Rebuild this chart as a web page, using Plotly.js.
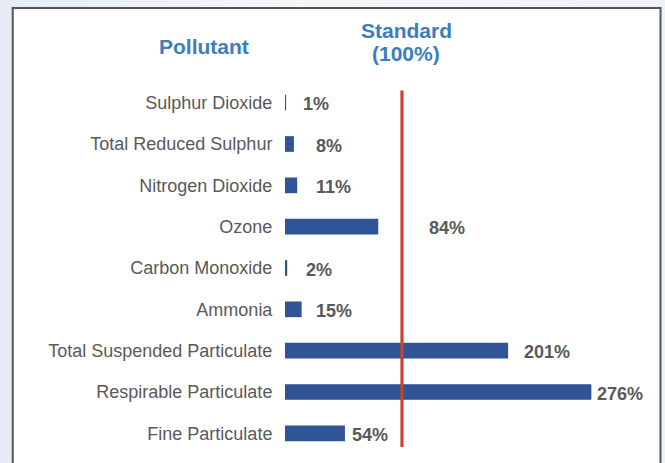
<!DOCTYPE html>
<html>
<head>
<meta charset="utf-8">
<script src="https://cdn.plot.ly/plotly-3.0.1.min.js"></script>
<style>
  html, body { margin: 0; padding: 0; }
  body { width: 665px; height: 463px; background: linear-gradient(90deg, #e6ecf5 0%, #f4f6fa 45%, #eef2f8 100%); }
  #chart { width: 665px; height: 463px; }
</style>
</head>
<body>
<div id="chart"></div>
<script>
// ---- data ----
const pollutants = [
  "Sulphur Dioxide",
  "Total Reduced Sulphur",
  "Nitrogen Dioxide",
  "Ozone",
  "Carbon Monoxide",
  "Ammonia",
  "Total Suspended Particulate",
  "Respirable Particulate",
  "Fine Particulate"
];
const percentOfStandard = [1, 8, 11, 84, 2, 15, 201, 276, 54];
const valueLabels = ["1%", "8%", "11%", "84%", "2%", "15%", "201%", "276%", "54%"];
const headerLeft = "Pollutant";
const headerRightLines = ["Standard", "(100%)"];

// ---- styling / placement (not data) ----
const W = 665, H = 463;
const M = { l: 285, r: 47, t: 82, b: 9 };
const plotW = W - M.l - M.r, plotH = H - M.t - M.b;
const fx = px => (px - M.l) / plotW;
const fy = py => (H - M.b - py) / plotH;
const standardLineX = 105.4;            // where the marker is drawn in the reference
const labelShift = [15, 20, 17, 49, 17, 12, 14, 4, 5];  // px gap after bar end
const barColor = "#2f5597";
const textGray = "#595959";
const titleBlue = "#3b7dbf";
const FONT = "Liberation Sans, Arial, sans-serif";

const trace = {
  type: "bar",
  orientation: "h",
  y: pollutants,
  x: percentOfStandard,
  marker: { color: barColor, line: { width: 0 } },
  width: 0.38,
  hoverinfo: "skip",
  showlegend: false
};

const annotations = pollutants.map((p, i) => ({
  x: percentOfStandard[i], y: p, xref: "x", yref: "y",
  text: "<b>" + valueLabels[i] + "</b>",
  showarrow: false, xanchor: "left", yanchor: "middle",
  xshift: labelShift[i], yshift: -1.5,
  font: { family: FONT, size: 18, color: textGray }
}));

annotations.push({
  x: fx(204), y: fy(46), xref: "paper", yref: "paper",
  text: "<b>" + headerLeft + "</b>", showarrow: false,
  xanchor: "center", yanchor: "middle",
  font: { family: FONT, size: 21, color: titleBlue }
});
headerRightLines.forEach((t, k) => {
  annotations.push({
    x: fx(406), y: fy(31 + k * 22), xref: "paper", yref: "paper",
    text: "<b>" + t + "</b>", showarrow: false,
    xanchor: "center", yanchor: "middle",
    font: { family: FONT, size: 21, color: titleBlue }
  });
});

const layout = {
  width: W, height: H,
  margin: M,
  paper_bgcolor: "rgba(0,0,0,0)",
  plot_bgcolor: "rgba(0,0,0,0)",
  bargap: 0.6,
  xaxis: {
    range: [0, 300], showgrid: false, zeroline: false, showline: false,
    showticklabels: false, ticks: "", fixedrange: true
  },
  yaxis: {
    type: "category", autorange: "reversed",
    showgrid: false, zeroline: false, showline: false,
    ticks: "outside", ticklen: 8, tickcolor: "rgba(0,0,0,0)",
    tickfont: { family: FONT, size: 18, color: textGray },
    fixedrange: true
  },
  shapes: [
    {
      type: "rect", xref: "paper", yref: "paper", layer: "below",
      x0: fx(12.7), x1: fx(660.5), y0: fy(480), y1: fy(8),
      fillcolor: "#ffffff", line: { color: "#555555", width: 2 }
    },
    {
      type: "line", xref: "x", yref: "paper", layer: "above",
      x0: standardLineX, x1: standardLineX, y0: fy(447), y1: fy(90.5),
      line: { color: "#c8432b", width: 3.2 }
    }
  ],
  annotations: annotations,
  font: { family: FONT }
};

Plotly.newPlot("chart", [trace], layout, { displayModeBar: false, staticPlot: true });
</script>
</body>
</html>
